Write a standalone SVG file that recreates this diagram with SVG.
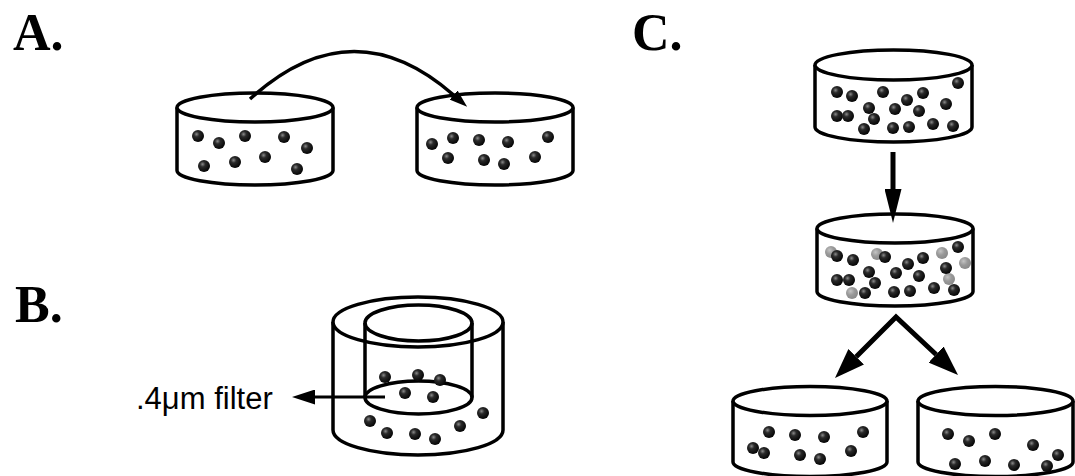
<svg xmlns="http://www.w3.org/2000/svg" width="1075" height="476" viewBox="0 0 1075 476">
  <style>
    .dish { fill: #fff; stroke: #000; stroke-width: 3.5; stroke-linejoin: round; }
    .rim { fill: #fff; stroke: #000; stroke-width: 3.5; }
    .line { fill: none; stroke: #000; stroke-width: 3.5; }
    .label { font-family: "Liberation Serif", "Times New Roman", serif; font-weight: bold; font-size: 52px; fill: #000; }
    .note { font-family: "Liberation Sans", Arial, sans-serif; font-size: 31px; fill: #000; }
    .cell circle, .dead circle { r: 6px; }
    .cell { fill: url(#bead); }
    .dead { fill: url(#beadGray); }
  </style>
  <defs>
    <radialGradient id="bead" cx="0.38" cy="0.35" r="0.65">
      <stop offset="0" stop-color="#8a8a8a"/>
      <stop offset="0.35" stop-color="#2a2a2a"/>
      <stop offset="1" stop-color="#050505"/>
    </radialGradient>
    <radialGradient id="beadGray" cx="0.38" cy="0.35" r="0.65">
      <stop offset="0" stop-color="#c4c4c4"/>
      <stop offset="0.5" stop-color="#9a9a9a"/>
      <stop offset="1" stop-color="#8a8a8a"/>
    </radialGradient>
    <marker id="headThin" markerUnits="userSpaceOnUse" viewBox="0 0 18 12" markerWidth="18" markerHeight="12" refX="0" refY="6" orient="auto">
      <path d="M0,0 L18,6 L0,12 Z" fill="#000"/>
    </marker>
    <marker id="headB" markerUnits="userSpaceOnUse" viewBox="0 0 23 15" markerWidth="23" markerHeight="15" refX="0" refY="7.5" orient="auto">
      <path d="M0,0 L23,7.5 L0,15 Z" fill="#000"/>
    </marker>
    <marker id="headDown" markerUnits="userSpaceOnUse" viewBox="0 0 34 17" markerWidth="34" markerHeight="17" refX="0" refY="8.5" orient="auto">
      <path d="M0,0 L34,8.5 L0,17 Z" fill="#000"/>
    </marker>
    <marker id="headWide" markerUnits="userSpaceOnUse" viewBox="0 0 30 22" markerWidth="30" markerHeight="22" refX="0" refY="11" orient="auto-start-reverse">
      <path d="M0,0 L30,11 L0,22 Z" fill="#000"/>
    </marker>
  </defs>

  <rect width="1075" height="476" fill="#fff"/>

  <!-- panel letters -->
  <text class="label" x="13" y="50">A.</text>
  <text class="label" x="15" y="322">B.</text>
  <text class="label" x="632" y="50">C.</text>

  <!-- Panel A: source dish -->
  <g id="dishA1">
    <path class="dish" d="M177,107.5 L177,170.5 A78,14.5 0 0 0 333,170.5 L333,107.5"/>
    <ellipse class="rim" cx="255" cy="107.5" rx="78" ry="14.5"/>
    <g class="cell">
      <circle cx="198" cy="136" r="6"/><circle cx="219" cy="143" r="6"/>
      <circle cx="245" cy="136" r="6"/><circle cx="284" cy="137" r="6"/>
      <circle cx="307" cy="148" r="6"/><circle cx="204" cy="166" r="6"/>
      <circle cx="235" cy="162" r="6"/><circle cx="265" cy="157" r="6"/>
      <circle cx="297" cy="169" r="6"/>
    </g>
  </g>

  <!-- Panel A: receiving dish -->
  <g id="dishA2">
    <path class="dish" d="M417,107.5 L417,170.5 A78,14.5 0 0 0 573,170.5 L573,107.5"/>
    <ellipse class="rim" cx="495" cy="107.5" rx="78" ry="14.5"/>
    <g class="cell">
      <circle cx="432" cy="144" r="6"/><circle cx="453" cy="138" r="6"/>
      <circle cx="479" cy="140" r="6"/><circle cx="508" cy="142" r="6"/>
      <circle cx="548" cy="137" r="6"/><circle cx="448" cy="158" r="6"/>
      <circle cx="484" cy="160" r="6"/><circle cx="504" cy="164" r="6"/>
      <circle cx="535" cy="157" r="6"/>
    </g>
  </g>

  <!-- Panel B: transwell insert -->
  <g id="transwell">
    <path class="dish" d="M333,322 L333,430 A85,25 0 0 0 503,430 L503,322"/>
    <ellipse class="rim" cx="418" cy="322" rx="85" ry="25"/>
    <path class="line" d="M365,323 L365,397.5 M472,323 L472,397.5"/>
    <ellipse class="line" cx="418.5" cy="323" rx="53.5" ry="18"/>
    <ellipse class="line" cx="418.5" cy="397.5" rx="53.5" ry="16.5"/>
    <g class="cell">
      <circle cx="385" cy="377" r="6"/><circle cx="418" cy="375" r="6"/>
      <circle cx="440" cy="380" r="6"/><circle cx="405" cy="393" r="6"/>
      <circle cx="433" cy="397" r="6"/>
      <circle cx="370" cy="421" r="6"/><circle cx="387" cy="433" r="6"/>
      <circle cx="415" cy="434" r="6"/><circle cx="435" cy="439" r="6"/>
      <circle cx="460" cy="426" r="6"/><circle cx="483" cy="413" r="6"/>
    </g>
  </g>
  <g id="filterLabel">
    <text class="note" x="136" y="409">.4μm filter</text>
  </g>

  <!-- Panel C: parent dish -->
  <g id="dishC1">
    <path class="dish" d="M815,65 L815,127 A78.5,15 0 0 0 972,127 L972,65"/>
    <ellipse class="rim" cx="893.5" cy="65" rx="78.5" ry="15"/>
    <g class="cell">
      <circle cx="837" cy="92" r="6"/><circle cx="852" cy="96" r="6"/>
      <circle cx="883" cy="92" r="6"/><circle cx="869" cy="108" r="6"/>
      <circle cx="895" cy="109" r="6"/><circle cx="907" cy="100" r="6"/>
      <circle cx="923" cy="93" r="6"/><circle cx="958" cy="83" r="6"/>
      <circle cx="946" cy="104" r="6"/><circle cx="919" cy="111" r="6"/>
      <circle cx="837" cy="116" r="6"/><circle cx="848" cy="116" r="6"/>
      <circle cx="874" cy="119" r="6"/><circle cx="864" cy="129" r="6"/>
      <circle cx="893" cy="128" r="6"/><circle cx="909" cy="127" r="6"/>
      <circle cx="933" cy="124" r="6"/><circle cx="953" cy="126" r="6"/>
    </g>
  </g>

  <!-- Panel C: mixed dish -->
  <g id="dishC2">
    <path class="dish" d="M817,228.5 L817,291.5 A78,14.5 0 0 0 973,291.5 L973,228.5"/>
    <ellipse class="rim" cx="895" cy="228.5" rx="78" ry="14.5"/>
    <g class="dead">
      <circle cx="831" cy="252" r="6"/><circle cx="877" cy="254" r="6"/>
      <circle cx="942" cy="253" r="6"/><circle cx="965" cy="263" r="6"/>
      <circle cx="949" cy="279" r="6"/><circle cx="852" cy="293" r="6"/>
    </g>
    <g class="cell">
      <circle cx="837" cy="256" r="6"/><circle cx="853" cy="260" r="6"/>
      <circle cx="885" cy="257" r="6"/><circle cx="869" cy="272" r="6"/>
      <circle cx="896" cy="273" r="6"/><circle cx="908" cy="264" r="6"/>
      <circle cx="923" cy="258" r="6"/><circle cx="958" cy="247" r="6"/>
      <circle cx="946" cy="268" r="6"/><circle cx="919" cy="276" r="6"/>
      <circle cx="837" cy="280" r="6"/><circle cx="849" cy="280" r="6"/>
      <circle cx="875" cy="283" r="6"/><circle cx="865" cy="293" r="6"/>
      <circle cx="894" cy="292" r="6"/><circle cx="910" cy="291" r="6"/>
      <circle cx="934" cy="288" r="6"/><circle cx="954" cy="290" r="6"/>
    </g>
  </g>

  <!-- Panel C: daughter dishes -->
  <g id="dishC3">
    <path class="dish" d="M733,401 L733,462 A77,14.5 0 0 0 887,462 L887,401"/>
    <ellipse class="rim" cx="810" cy="401" rx="77" ry="14.5"/>
    <g class="cell">
      <circle cx="769" cy="432" r="6"/><circle cx="795" cy="435" r="6"/>
      <circle cx="824" cy="437" r="6"/><circle cx="863" cy="432" r="6"/>
      <circle cx="753" cy="448" r="6"/><circle cx="764" cy="453" r="6"/>
      <circle cx="800" cy="455" r="6"/><circle cx="820" cy="459" r="6"/>
      <circle cx="851" cy="451" r="6"/>
    </g>
  </g>
  <g id="dishC4">
    <path class="dish" d="M918,401 L918,462 A77.5,14.5 0 0 0 1073,462 L1073,401"/>
    <ellipse class="rim" cx="995.5" cy="401" rx="77.5" ry="14.5"/>
    <g class="cell">
      <circle cx="948" cy="434" r="6"/><circle cx="969" cy="441" r="6"/>
      <circle cx="995" cy="434" r="6"/><circle cx="1033" cy="445" r="6"/>
      <circle cx="1058" cy="455" r="6"/><circle cx="955" cy="464" r="6"/>
      <circle cx="985" cy="461" r="6"/><circle cx="1014" cy="465" r="6"/>
      <circle cx="1047" cy="466" r="6"/>
    </g>
  </g>

  <!-- connectors -->
  <g id="connectors">
    <path d="M250,99 Q352,6 453.6,95" fill="none" stroke="#000" stroke-width="3.5" marker-end="url(#headThin)"/>
    <path d="M385,397 L315,397" fill="none" stroke="#000" stroke-width="3" marker-end="url(#headB)"/>
    <path d="M893,152 L893,189" fill="none" stroke="#000" stroke-width="5" marker-end="url(#headDown)"/>
    <path d="M856.2,356.8 L896,317 L936.1,354.5" fill="none" stroke="#000" stroke-width="5" stroke-linejoin="miter" marker-start="url(#headWide)" marker-end="url(#headWide)"/>
  </g>
</svg>
